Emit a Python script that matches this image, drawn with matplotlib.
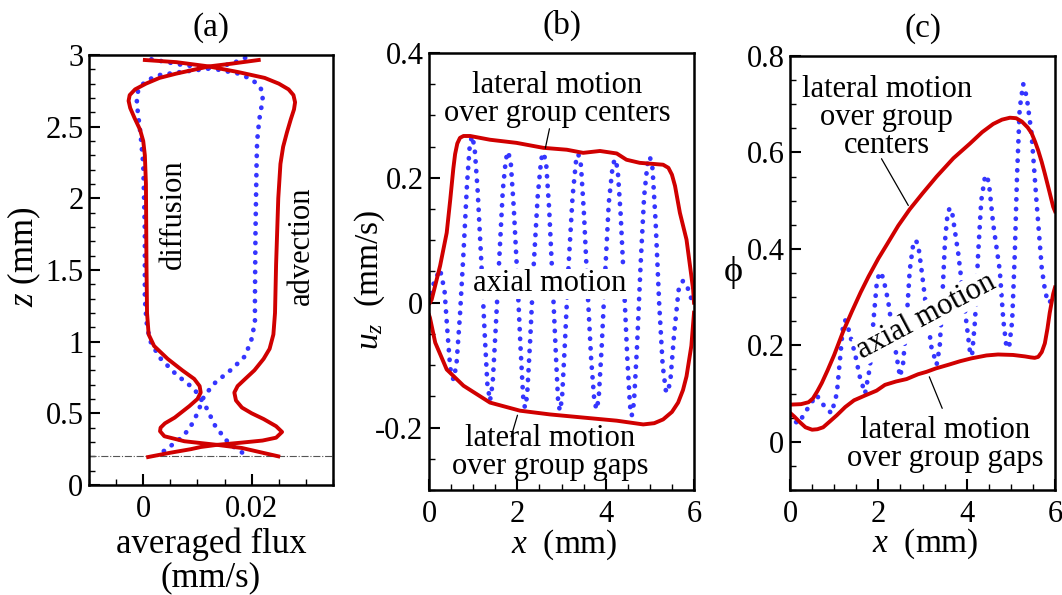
import matplotlib
matplotlib.use('Agg')
import matplotlib.pyplot as plt
from matplotlib.ticker import MultipleLocator, FuncFormatter

plt.rcParams['font.family'] = ['Liberation Serif', 'DejaVu Serif']
plt.rcParams['mathtext.fontset'] = 'custom'
plt.rcParams['mathtext.rm'] = 'Liberation Serif'
plt.rcParams['mathtext.it'] = 'Liberation Serif:italic'

RED = '#d00000'
BLUE = '#3535ff'

# ---- panel (a): averaged flux vs z ----
# red curve from the top-left end down the right side (advection)
adv_r_x = [0.0003, 0.0061, 0.0121, 0.0176, 0.0224, 0.0250, 0.0268, 0.0277, 0.0280, 0.0278,
           0.0272, 0.0265, 0.0258, 0.0253, 0.0249, 0.0245, 0.0243, 0.0240, 0.0233, 0.0222,
           0.0205, 0.0188, 0.0174, 0.0168, 0.0171, 0.0182, 0.0200, 0.0222, 0.0245, 0.0256,
           0.0245, 0.0220, 0.0180, 0.0136, 0.0106, 0.0088, 0.0050, 0.0009]
adv_r_z = [2.965, 2.95, 2.92, 2.88, 2.84, 2.80, 2.76, 2.72, 2.67, 2.62,
           2.55, 2.46, 2.36, 2.24, 2.00, 1.54, 1.20, 1.05, 0.95, 0.88,
           0.80, 0.74, 0.69, 0.645, 0.59, 0.54, 0.50, 0.46, 0.41, 0.37,
           0.33, 0.31, 0.295, 0.28, 0.265, 0.25, 0.225, 0.195]
# red curve from the top-right end down the left side
adv_l_x = [0.0213, 0.0164, 0.0121, 0.0061, 0.0030, 0.0005, -0.0015, -0.0025, -0.0027, -0.0024,
           -0.0016, -0.0006, 0.0000, 0.0003, 0.0005, 0.0006, 0.0007, 0.0010, 0.0020, 0.0045,
           0.0072, 0.0094, 0.0104, 0.0106, 0.0100, 0.0085, 0.0058, 0.0040, 0.0032, 0.0031,
           0.0039, 0.0076, 0.0136, 0.0182, 0.0249]
adv_l_z = [2.965, 2.94, 2.92, 2.87, 2.84, 2.80, 2.76, 2.72, 2.68, 2.63,
           2.56, 2.48, 2.40, 2.30, 2.10, 1.54, 1.20, 1.05, 0.97, 0.88,
           0.80, 0.74, 0.69, 0.645, 0.60, 0.55, 0.47, 0.43, 0.40, 0.375,
           0.34, 0.305, 0.28, 0.258, 0.20]
# blue dotted curve from the top-left end down the right side
dif_r_x = [0.0015, 0.0073, 0.0121, 0.0176, 0.0200, 0.0215, 0.0221, 0.0219, 0.0214, 0.0210,
           0.0209, 0.0207, 0.0206, 0.0206, 0.0200, 0.0188, 0.0164, 0.0133, 0.0112, 0.0100,
           0.0085, 0.0067, 0.0043, 0.0024]
dif_r_z = [2.97, 2.93, 2.91, 2.87, 2.83, 2.78, 2.73, 2.66, 2.55, 2.40,
           2.24, 1.77, 1.30, 1.14, 1.02, 0.90, 0.81, 0.715, 0.62, 0.50,
           0.39, 0.32, 0.25, 0.20]
# blue dotted curve from the top-right end down the left side
dif_l_x = [0.0188, 0.0164, 0.0121, 0.0067, 0.0030, 0.0005, -0.0009, -0.0012, -0.0010, -0.0005,
           0.0000, 0.0003, 0.0003, 0.0006, 0.0012, 0.0030, 0.0061, 0.0094, 0.0115, 0.0133,
           0.0158, 0.0179, 0.0194]
dif_l_z = [2.98, 2.94, 2.905, 2.88, 2.86, 2.82, 2.76, 2.69, 2.60, 2.45,
           2.24, 1.77, 1.30, 1.14, 1.01, 0.89, 0.77, 0.67, 0.55, 0.41,
           0.29, 0.234, 0.20]
z_base = 0.2

# ---- panel (b): u_z vs x ----
ub_top_x = [0.02, 0.06, 0.25, 0.40, 0.48, 0.55, 0.59, 0.64, 0.70, 0.78, 0.93, 1.38, 1.98, 2.59,
            3.12, 3.49, 3.87, 4.25, 4.47, 4.77, 5.30, 5.42, 5.50, 5.57, 5.68, 5.83, 5.93, 5.98, 6.0]
ub_top_y = [0.0, 0.005, 0.059, 0.112, 0.165, 0.215, 0.238, 0.255, 0.264, 0.267, 0.267, 0.261, 0.256, 0.248,
            0.245, 0.240, 0.243, 0.239, 0.229, 0.224, 0.221, 0.216, 0.205, 0.187, 0.144, 0.101, 0.048, 0.021, 0.0]
ub_bot_x = [0.0, 0.02, 0.14, 0.40, 0.78, 1.38, 2.06, 2.74, 3.49, 4.25, 4.85, 5.10, 5.30, 5.50,
            5.64, 5.75, 5.83, 5.94, 6.0]
ub_bot_y = [-0.02, -0.024, -0.064, -0.107, -0.133, -0.160, -0.173, -0.179, -0.184, -0.189,
            -0.195, -0.193, -0.187, -0.175, -0.160, -0.140, -0.118, -0.069, -0.016]
ub_ax_x = [0.0, 0.12, 0.25, 0.35, 0.42, 0.48, 0.55, 0.62, 0.70, 0.78, 0.86, 0.92, 0.97, 1.03,
           1.10, 1.18, 1.26, 1.32, 1.38, 1.44, 1.51, 1.59, 1.67, 1.74, 1.79, 1.85, 1.92, 2.00,
           2.07, 2.13, 2.17, 2.22, 2.29, 2.37, 2.46, 2.54, 2.59, 2.65, 2.72, 2.80, 2.87, 2.92,
           2.96, 3.01, 3.08, 3.16, 3.25, 3.33, 3.38, 3.44, 3.51, 3.59, 3.67, 3.74, 3.79, 3.84,
           3.91, 3.99, 4.07, 4.16, 4.21, 4.27, 4.34, 4.42, 4.49, 4.55, 4.59, 4.64, 4.71, 4.79,
           4.87, 4.95, 5.00, 5.06, 5.13, 5.21, 5.29, 5.36, 5.41, 5.47, 5.55, 5.65, 5.75, 5.85,
           5.93, 6.0]
ub_ax_y = [0.0, 0.035, 0.053, 0.02, -0.05, -0.105, -0.123, -0.10, -0.02, 0.08, 0.19, 0.25, 0.267, 0.25,
           0.18, 0.07, -0.05, -0.13, -0.157, -0.13, -0.04, 0.07, 0.18, 0.23, 0.242, 0.225, 0.15, 0.04,
           -0.07, -0.15, -0.168, -0.15, -0.06, 0.06, 0.17, 0.23, 0.24, 0.225, 0.15, 0.03, -0.08, -0.155,
           -0.173, -0.155, -0.06, 0.06, 0.17, 0.228, 0.238, 0.22, 0.14, 0.02, -0.09, -0.155, -0.171, -0.155,
           -0.07, 0.05, 0.16, 0.22, 0.23, 0.215, 0.14, 0.02, -0.09, -0.165, -0.181, -0.16, -0.07, 0.06,
           0.17, 0.225, 0.234, 0.215, 0.13, 0.0, -0.10, -0.14, -0.144, -0.12, -0.05, 0.02, 0.035, 0.025,
           0.008, 0.0]

# ---- panel (c): phi vs x ----
pc_top_x = [0.0, 0.25, 0.42, 0.52, 0.62, 0.72, 0.85, 1.00, 1.20, 1.40, 1.60, 1.78, 2.00, 2.20,
            2.45, 2.71, 3.00, 3.32, 3.70, 4.07, 4.35, 4.60, 4.80, 4.98, 5.12, 5.25, 5.38, 5.47,
            5.55, 5.62, 5.70, 5.77, 5.87, 5.96, 6.0]
pc_top_y = [0.077, 0.078, 0.082, 0.09, 0.105, 0.122, 0.148, 0.18, 0.228, 0.27, 0.31, 0.343, 0.38, 0.41,
            0.448, 0.482, 0.515, 0.55, 0.588, 0.618, 0.642, 0.659, 0.668, 0.672, 0.671, 0.664, 0.652, 0.64,
            0.622, 0.604, 0.58, 0.556, 0.52, 0.487, 0.478]
pc_bot_x = [0.0, 0.10, 0.23, 0.35, 0.50, 0.62, 0.75, 0.90, 1.06, 1.25, 1.45, 1.70, 1.96, 2.15,
            2.40, 2.64, 2.90, 3.09, 3.30, 3.60, 3.85, 4.11, 4.45, 4.71, 5.05, 5.32, 5.45, 5.54,
            5.62, 5.70, 5.77, 5.83, 5.88, 5.96, 6.0]
pc_bot_y = [0.06, 0.052, 0.04, 0.03, 0.025, 0.026, 0.03, 0.042, 0.055, 0.072, 0.086, 0.096, 0.106, 0.118,
            0.125, 0.13, 0.14, 0.145, 0.152, 0.16, 0.167, 0.173, 0.179, 0.181, 0.18, 0.177, 0.175, 0.174,
            0.176, 0.186, 0.204, 0.235, 0.267, 0.307, 0.32]
pc_ax_x = [0.0, 0.04, 0.19, 0.42, 0.60, 0.79, 0.94, 1.06, 1.13, 1.20, 1.25, 1.32, 1.47, 1.58, 1.70,
           1.81, 1.89, 1.97, 2.04, 2.11, 2.22, 2.34, 2.49, 2.56, 2.64, 2.71, 2.79, 2.84, 2.90, 2.98,
           3.09, 3.20, 3.32, 3.39, 3.45, 3.51, 3.57, 3.62, 3.68, 3.81, 3.96, 4.07, 4.12, 4.19, 4.26,
           4.33, 4.42, 4.50, 4.60, 4.75, 4.83, 4.90, 4.96, 5.03, 5.09, 5.14, 5.20, 5.28, 5.36, 5.47,
           5.58, 5.70, 5.78, 5.85, 5.92, 6.0]
pc_ax_y = [0.055, 0.046, 0.038, 0.072, 0.097, 0.072, 0.059, 0.10, 0.169, 0.24, 0.252, 0.235, 0.183, 0.135, 0.10,
           0.155, 0.252, 0.335, 0.352, 0.34, 0.293, 0.217, 0.135, 0.162, 0.252, 0.355, 0.41, 0.418, 0.41, 0.355,
           0.273, 0.197, 0.16, 0.197, 0.30, 0.417, 0.475, 0.485, 0.47, 0.39, 0.273, 0.19, 0.178, 0.252, 0.39,
           0.50, 0.553, 0.54, 0.452, 0.355, 0.252, 0.197, 0.195, 0.25, 0.39, 0.55, 0.69, 0.742, 0.715, 0.638,
           0.50, 0.36, 0.31, 0.288, 0.293, 0.31]

FS_TICK = 22
FS_LABEL = 24
FS_TEXT = 22
FS_TITLE = 24
DOTS = dict(color=BLUE, lw=3.4, linestyle=(0, (0.05, 2.0)), dash_capstyle='round')
SOLID = dict(color=RED, lw=2.8, solid_joinstyle='round')


def style_axes(ax, xmajor, xminor, ymajor, yminor):
    ax.xaxis.set_major_locator(xmajor)
    ax.xaxis.set_minor_locator(MultipleLocator(xminor))
    ax.yaxis.set_major_locator(MultipleLocator(ymajor))
    ax.yaxis.set_minor_locator(MultipleLocator(yminor))
    fmt = FuncFormatter(lambda v, p: '%g' % round(v, 6))
    ax.xaxis.set_major_formatter(fmt)
    ax.yaxis.set_major_formatter(fmt)
    ax.tick_params(which='both', direction='in', top=False, right=False, labelsize=FS_TICK, width=1.5)
    ax.tick_params(which='major', length=8)
    ax.tick_params(which='minor', length=4, width=1.0)
    ax.tick_params(axis='x', pad=7)
    ax.tick_params(axis='y', pad=4)
    for s in ax.spines.values():
        s.set_linewidth(1.8)


fig = plt.figure(figsize=(10.62, 5.95), dpi=100)
ax_a = fig.add_axes([0.0838, 0.1849, 0.2298, 0.7227])
ax_b = fig.add_axes([0.4040, 0.1765, 0.2495, 0.7345])
ax_c = fig.add_axes([0.7439, 0.1765, 0.2495, 0.7294])

# (a)
ax_a.axhline(z_base, color='#555555', lw=0.8, linestyle='-.')
ax_a.plot(dif_r_x, dif_r_z, **DOTS)
ax_a.plot(dif_l_x, dif_l_z, **DOTS)
ax_a.plot(adv_r_x, adv_r_z, **SOLID)
ax_a.plot(adv_l_x, adv_l_z, **SOLID)
ax_a.set_xlim(-0.01, 0.035)
ax_a.set_ylim(0, 3)
style_axes(ax_a, MultipleLocator(0.02), 0.005, 0.5, 0.1)
ax_a.text(0.0055, 1.89, 'diffusion', rotation=90, ha='center', va='center', fontsize=FS_TEXT)
ax_a.text(0.0292, 1.67, 'advection', rotation=90, ha='center', va='center', fontsize=FS_TEXT)
ax_a.set_ylabel(r'$z$ (mm)', fontsize=FS_LABEL + 1)
ax_a.yaxis.set_label_coords(-0.19, 0.53)
ax_a.set_xlabel('averaged flux\n(mm/s)', fontsize=FS_LABEL + 1, linespacing=1.0)
ax_a.xaxis.set_label_coords(0.5, -0.10)
ax_a.xaxis.label.set_va('top')
ax_a.set_title('(a)', fontsize=FS_TITLE, pad=14)

# (b)
ax_b.plot(ub_ax_x, ub_ax_y, **DOTS)
ax_b.plot(ub_top_x, ub_top_y, **SOLID)
ax_b.plot(ub_bot_x, ub_bot_y, **SOLID)
ax_b.set_xlim(0, 6)
ax_b.set_ylim(-0.3, 0.4)
style_axes(ax_b, MultipleLocator(2), 0.5, 0.2, 0.05)
ax_b.text(2.9, 0.325, 'lateral motion\nover group centers', ha='center', va='center',
          fontsize=FS_TEXT, linespacing=0.95)
ax_b.annotate('', xy=(2.62, 0.243), xytext=(2.74, 0.283),
              arrowprops=dict(arrowstyle='-', lw=0.9, color='black'))
ax_b.text(2.74, 0.03, 'axial motion', ha='center', va='center', fontsize=FS_TEXT,
          bbox=dict(facecolor='white', edgecolor='none', pad=0.5))
ax_b.text(2.74, -0.24, 'lateral motion\nover group gaps', ha='center', va='center',
          fontsize=FS_TEXT, linespacing=0.95)
ax_b.annotate('', xy=(2.02, -0.176), xytext=(1.84, -0.219),
              arrowprops=dict(arrowstyle='-', lw=0.9, color='black'))
ax_b.set_ylabel(r'$u_z$  (mm/s)', fontsize=FS_LABEL)
ax_b.yaxis.set_label_coords(-0.16, 0.48)
ax_b.set_xlabel(r'$x$  (mm)', fontsize=FS_LABEL)
ax_b.xaxis.set_label_coords(0.51, -0.085)
ax_b.xaxis.label.set_va('top')
ax_b.set_title('(b)', fontsize=FS_TITLE, pad=14)

# (c)
ax_c.plot(pc_ax_x, pc_ax_y, **DOTS)
ax_c.plot(pc_top_x, pc_top_y, **SOLID)
ax_c.plot(pc_bot_x, pc_bot_y, **SOLID)
ax_c.set_xlim(0, 6)
ax_c.set_ylim(-0.1, 0.8)
style_axes(ax_c, MultipleLocator(2), 0.5, 0.2, 0.05)
ax_c.text(2.19, 0.672, 'lateral motion\nover group\ncenters', ha='center', va='center',
          fontsize=FS_TEXT, linespacing=0.95)
ax_c.annotate('', xy=(2.71, 0.485), xytext=(2.04, 0.592),
              arrowprops=dict(arrowstyle='-', lw=0.9, color='black'))
ax_c.text(3.09, 0.26, 'axial motion', ha='center', va='center', fontsize=FS_TEXT,
          rotation=28, rotation_mode='anchor',
          bbox=dict(facecolor='white', edgecolor='none', pad=0.3))
ax_c.text(3.51, -0.005, 'lateral motion\nover group gaps', ha='center', va='center',
          fontsize=FS_TEXT, linespacing=0.95)
ax_c.annotate('', xy=(3.13, 0.14), xytext=(3.47, 0.064),
              arrowprops=dict(arrowstyle='-', lw=0.9, color='black'))
ax_c.set_ylabel('ϕ', fontsize=FS_LABEL + 2, rotation=0, ha='center', va='center')
ax_c.yaxis.set_label_coords(-0.215, 0.50)
ax_c.set_xlabel(r'$x$  (mm)', fontsize=FS_LABEL)
ax_c.xaxis.set_label_coords(0.51, -0.085)
ax_c.xaxis.label.set_va('top')
ax_c.set_title('(c)', fontsize=FS_TITLE, pad=14)

fig.savefig('out.png', dpi=100)
plt.close(fig)
